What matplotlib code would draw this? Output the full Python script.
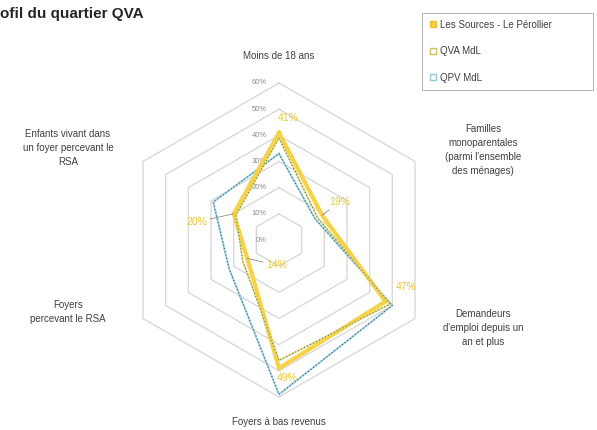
import numpy as np
import matplotlib
matplotlib.use("Agg")
import matplotlib.pyplot as plt
from matplotlib.lines import Line2D

plt.rcParams["font.family"] = ["Liberation Sans", "DejaVu Sans"]

# ---- data -------------------------------------------------------------
categories = [
    "Moins de 18 ans",
    "Familles\nmonoparentales\n(parmi l'ensemble\ndes ménages)",
    "Demandeurs\nd'emploi depuis un\nan et plus",
    "Foyers à bas revenus",
    "Foyers\npercevant le RSA",
    "Enfants vivant dans\nun foyer percevant le\nRSA",
]
series_names = ["Les Sources - Le Pérollier", "QVA MdL", "QPV MdL"]
les_sources = [41, 19, 47, 49, 14, 20]
qva_mdl = [39, 17, 49, 46, 16, 19]
qpv_mdl = [33, 16, 50, 59, 22, 29]
ring_levels = [0, 10, 20, 30, 40, 50, 60]
ring_labels = ["0%", "10%", "20%", "30%", "40%", "50%", "60%"]

# ---- layout -----------------------------------------------------------
W, H = 597, 430
fig = plt.figure(figsize=(W / 100, H / 100), dpi=100)
ax = fig.add_axes([0, 0, 1, 1])
unit = 157 / 60.0          # pixels per percentage point
cx, cy = 279, 240           # centre of the radar in pixels
ax.set_xlim(-cx / unit, (W - cx) / unit)
ax.set_ylim(-(H - cy) / unit, cy / unit)
ax.axis("off")

n = len(categories)
angles = np.deg2rad(90 - 360 / n * np.arange(n))


def project(values):
    v = np.asarray(values, dtype=float)
    return v * np.cos(angles), v * np.sin(angles)


def closed(a):
    return np.append(a, a[0])


# hexagonal grid
for lvl in ring_levels[1:]:
    gx, gy = project([lvl] * n)
    ax.plot(closed(gx), closed(gy), color="#d9d9d9", lw=1.0, zorder=1)

for lvl, lab in zip(ring_levels, ring_labels):
    ax.text(-4.6, lvl, lab, ha="right", va="center", fontsize=5.5,
            color="#8c8c8c", zorder=2)

# category labels (pixel positions of their centres)
label_pos = [(279, 56), (483, 150), (483, 328), (279, 422), (68, 312), (68, 148)]
for text, (px_, py_) in zip(categories, label_pos):
    ax.text((px_ - cx) / unit, (cy - py_) / unit, text, ha="center", va="center",
            fontsize=7, color="#404040", linespacing=1.5, zorder=2)

# series
yellow = "#F5D247"
x, y = project(qpv_mdl)
ax.plot(closed(x), closed(y), color="#9ED6E6", lw=1.4, zorder=3)
ax.plot(closed(x), closed(y), color="#3F5F6A", lw=0.8, ls=(0, (1, 2)), zorder=3)

x, y = project(les_sources)
ax.plot(closed(x), closed(y), color=yellow, lw=3.0, solid_joinstyle="miter", zorder=4)

x, y = project(qva_mdl)
ax.plot(closed(x), closed(y), color="#E3DA7A", lw=1.2, zorder=5)
ax.plot(closed(x), closed(y), color="#6E7A3C", lw=0.8, ls=(0, (1, 2)), zorder=5)

# value labels for Les Sources - Le Pérollier
label_offsets = [(9, 15), (18, 13), (21, 14), (8, -10), (29, -7), (-37, -8)]
with_leader = [False, True, False, False, True, True]
sx, sy = project(les_sources)
for v, xi, yi, off, lead in zip(les_sources, sx, sy, label_offsets, with_leader):
    kw = {}
    if lead:
        kw["arrowprops"] = dict(arrowstyle="-", color="#8c8c8c", lw=0.6,
                                shrinkA=0, shrinkB=0)
    ax.annotate(f"{v}%", xy=(xi, yi), xytext=off, textcoords="offset pixels",
                ha="center", va="center", fontsize=7.5, color="#EFC62E",
                zorder=6, **kw)

# legend
handles = [
    Line2D([], [], marker="s", ls="none", markersize=5,
           markerfacecolor=yellow, markeredgecolor="#E8C22E"),
    Line2D([], [], marker="s", ls="none", markersize=4,
           markerfacecolor="none", markeredgecolor="#C9C05A"),
    Line2D([], [], marker="s", ls="none", markersize=4,
           markerfacecolor="none", markeredgecolor="#8FC9D6"),
]
leg = fig.legend(handles, series_names, loc="upper left",
                 bbox_to_anchor=(422 / W, 1 - 87 / H, 171 / W, 74 / H),
                 mode="expand", borderaxespad=0, fontsize=7,
                 labelspacing=1.7, handlelength=0.8, handletextpad=0.3,
                 borderpad=0.7, fancybox=False, frameon=True)
leg.get_frame().set_edgecolor("#a6a6a6")
leg.get_frame().set_linewidth(0.8)
for t in leg.get_texts():
    t.set_color("#404040")

# title, partly cut by the left edge
fig.text(-16 / W, 1 - 18 / H, "Profil du quartier QVA", ha="left",
         va="baseline", fontsize=11, fontweight="bold", color="#262626")

fig.savefig("out.png", dpi=100)
